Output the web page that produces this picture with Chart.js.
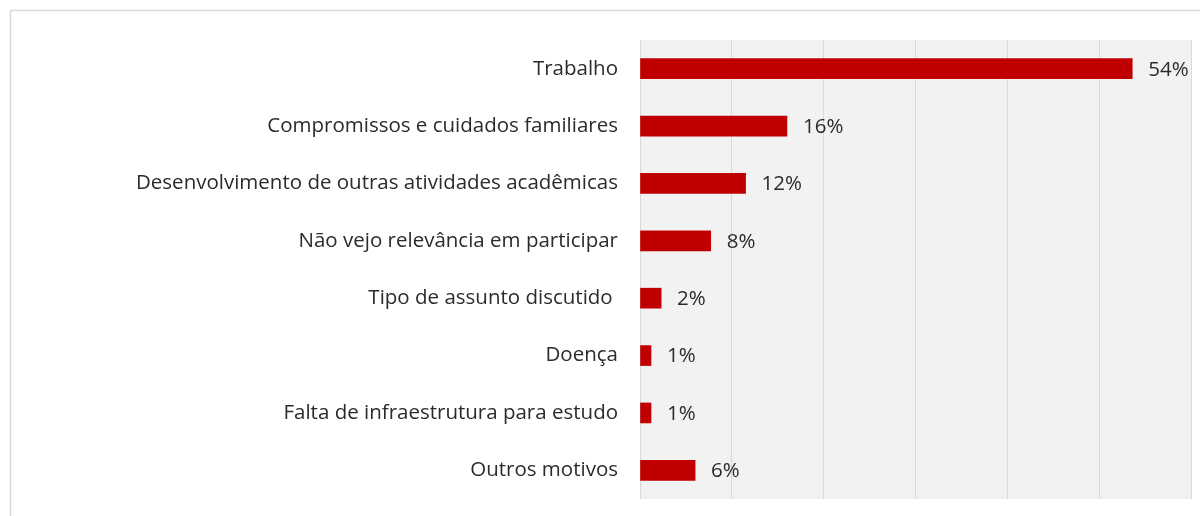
<!DOCTYPE html>
<html>
<head>
<meta charset="utf-8">
<script src="https://cdn.jsdelivr.net/npm/chart.js@4/dist/chart.umd.min.js"></script>
<style>
html,body{margin:0;padding:0;background:#fff;}
#wrap{position:relative;width:1200px;height:516px;}
canvas{display:block;}
</style>
</head>
<body>
<div id="wrap"><canvas id="c" width="1200" height="516"></canvas></div>
<script>
const categories = [
  "Trabalho",
  "Compromissos e cuidados familiares",
  "Desenvolvimento de outras atividades acadêmicas",
  "Não vejo relevância em participar",
  "Tipo de assunto discutido ",
  "Doença",
  "Falta de infraestrutura para estudo",
  "Outros motivos"
];
const values = [53.6, 16.0, 11.5, 7.7, 2.3, 1.2, 1.2, 6.0];
const valueLabels = ["54%", "16%", "12%", "8%", "2%", "1%", "1%", "6%"];
const xTicks = [0, 10, 20, 30, 40, 50, 60];

const FONT = "'Open Sans', Lato, sans-serif";
const TEXT = '#2b2b2b';

const bgPlugin = {
  id: 'bg',
  beforeDraw(chart) {
    const {ctx, chartArea: a} = chart;
    ctx.save();
    ctx.strokeStyle = '#d9d9d9';
    ctx.lineWidth = 1.5;
    ctx.beginPath();
    ctx.moveTo(10.5, 520);
    ctx.lineTo(10.5, 10.5);
    ctx.lineTo(1210, 10.5);
    ctx.stroke();
    ctx.fillStyle = '#f2f2f2';
    ctx.fillRect(a.left, a.top, a.right - a.left, a.bottom - a.top);
    ctx.restore();
  }
};

const labelPlugin = {
  id: 'vlabels',
  afterDatasetsDraw(chart) {
    const {ctx} = chart;
    const meta = chart.getDatasetMeta(0);
    ctx.save();
    ctx.font = "20.5px " + FONT;
    ctx.fillStyle = TEXT;
    ctx.textBaseline = 'middle';
    ctx.textAlign = 'left';
    meta.data.forEach((bar, i) => {
      ctx.fillText(valueLabels[i], bar.x + 16, bar.y + 1);
    });
    ctx.restore();
  }
};

new Chart(document.getElementById('c'), {
  type: 'bar',
  data: {
    labels: categories,
    datasets: [{
      data: values,
      backgroundColor: '#c00000',
      borderWidth: 0,
      barThickness: 20
    }]
  },
  options: {
    indexAxis: 'y',
    responsive: false,
    animation: false,
    layout: { padding: { left: 0, right: 9, top: 40, bottom: 17 } },
    plugins: { legend: { display: false }, tooltip: { enabled: false } },
    scales: {
      x: {
        min: 0, max: 60,
        afterBuildTicks(scale) { scale.ticks = xTicks.map(v => ({value: v})); },
        afterFit(scale) { scale.height = 0; },
        ticks: { display: false },
        grid: { color: '#d9d9d9', lineWidth: 1, drawTicks: false },
        border: { display: false }
      },
      y: {
        grid: { display: true, drawOnChartArea: false, drawTicks: true, tickLength: 22, tickColor: 'rgba(0,0,0,0)' },
        border: { display: false },
        ticks: {
          color: TEXT,
          font: { family: FONT, size: 20.5 },
          padding: 0,
          autoSkip: false
        },
        afterFit(scale) { scale.width = 640; }
      }
    }
  },
  plugins: [bgPlugin, labelPlugin]
});
</script>
</body>
</html>
